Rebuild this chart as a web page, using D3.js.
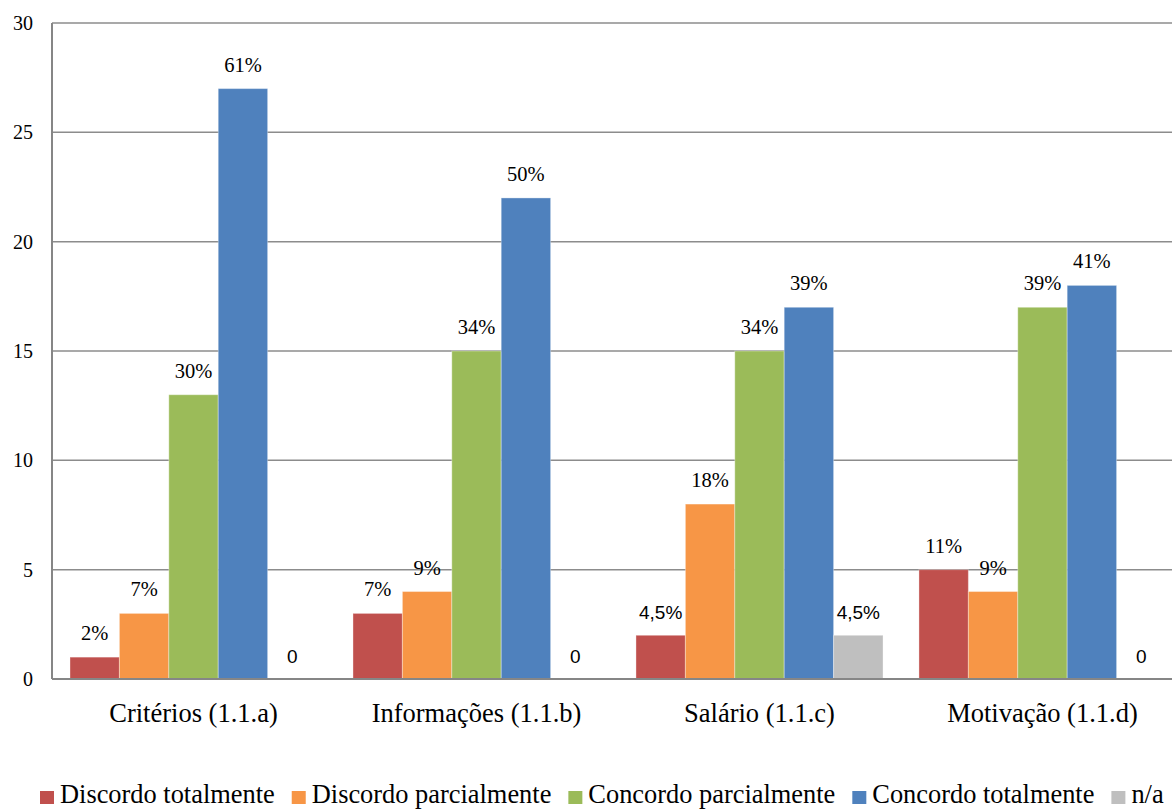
<!DOCTYPE html>
<html>
<head>
<meta charset="utf-8">
<script src="https://cdn.jsdelivr.net/npm/d3@7"></script>
<style>
  body { margin: 0; background: #fff; }
  svg { display: block; }
</style>
</head>
<body>
<svg id="chart" width="1172" height="809"></svg>
<script>
// Survey answers per question, counts and the percentage shown on top of each bar
const categories = ["Critérios (1.1.a)", "Informações (1.1.b)", "Salário (1.1.c)", "Motivação (1.1.d)"];
const seriesNames = ["Discordo totalmente", "Discordo parcialmente", "Concordo parcialmente", "Concordo totalmente", "n/a"];
const seriesColors = ["#C0504D", "#F79646", "#9BBB59", "#4F81BD", "#BFBFBF"];
const discordoTotalmente = [1, 3, 2, 5];
const discordoParcialmente = [3, 4, 8, 4];
const concordoParcialmente = [13, 15, 15, 17];
const concordoTotalmente = [27, 22, 17, 18];
const naoAplica = [0, 0, 2, 0];
const labelsDT = ["2%", "7%", "4,5%", "11%"];
const labelsDP = ["7%", "9%", "18%", "9%"];
const labelsCP = ["30%", "34%", "34%", "39%"];
const labelsCT = ["61%", "50%", "39%", "41%"];
const labelsNA = ["0", "0", "4,5%", "0"];
const yTicks = [0, 5, 10, 15, 20, 25, 30];

const values = [discordoTotalmente, discordoParcialmente, concordoParcialmente, concordoTotalmente, naoAplica];
const labels = [labelsDT, labelsDP, labelsCP, labelsCT, labelsNA];

const svg = d3.select("#chart");
const W = 1172;
const plotLeft = 52, plotRight = 1184, plotTop = 23, plotBottom = 679;
const serif = "'Liberation Serif', 'Times New Roman', serif";
const sans = "'Liberation Sans', Arial, sans-serif";

const x0 = d3.scaleBand().domain(categories).range([plotLeft, plotRight])
  .paddingInner(0.127).paddingOuter(0.0636);
const x1 = d3.scaleBand().domain(d3.range(seriesNames.length)).range([0, x0.bandwidth()]);
const y = d3.scaleLinear().domain([0, 30]).range([plotBottom, plotTop]);

// horizontal gridlines
svg.append("g").selectAll("line").data(yTicks.filter(t => t > 0)).join("line")
  .attr("x1", plotLeft).attr("x2", W)
  .attr("y1", d => y(d)).attr("y2", d => y(d))
  .attr("stroke", "#8c8c8c").attr("stroke-width", 1.5);

// y tick labels
svg.append("g").selectAll("text").data(yTicks).join("text")
  .attr("x", 33).attr("y", d => y(d) + 7)
  .attr("text-anchor", "end")
  .attr("font-family", serif).attr("font-size", 20).attr("fill", "#000")
  .text(d => d);

// bars with value labels
const groups = svg.append("g").selectAll("g").data(categories).join("g")
  .attr("transform", d => `translate(${x0(d)},0)`);

groups.each(function(cat, ci) {
  const g = d3.select(this);
  seriesNames.forEach((s, si) => {
    const v = values[si][ci];
    if (v > 0) {
      g.append("rect")
        .attr("x", x1(si)).attr("width", x1.bandwidth())
        .attr("y", y(v)).attr("height", y(0) - y(v))
        .attr("fill", seriesColors[si])
        .attr("stroke", "#ffffff").attr("stroke-opacity", 0.35).attr("stroke-width", 1);
    }
    const t = labels[si][ci];
    const isPlain = /^\d+%$/.test(t);
    g.append("text")
      .attr("x", x1(si) + x1.bandwidth() / 2)
      .attr("y", y(v) - (isPlain ? 17 : 16))
      .attr("text-anchor", "middle")
      .attr("font-family", isPlain ? serif : sans)
      .attr("font-size", isPlain ? 20.5 : 19)
      .attr("fill", "#000")
      .text(t);
  });
});

// axis lines
svg.append("line").attr("x1", plotLeft).attr("x2", plotLeft)
  .attr("y1", plotTop).attr("y2", y(0))
  .attr("stroke", "#868686").attr("stroke-width", 2);
svg.append("line").attr("x1", plotLeft).attr("x2", W)
  .attr("y1", y(0)).attr("y2", y(0))
  .attr("stroke", "#868686").attr("stroke-width", 2);

// category labels
svg.append("g").selectAll("text").data(categories).join("text")
  .attr("x", d => x0(d) + x0.bandwidth() / 2).attr("y", 722)
  .attr("text-anchor", "middle")
  .attr("font-family", serif).attr("font-size", 26.5).attr("fill", "#000")
  .text(d => d);

// legend
const legend = svg.append("g").attr("transform", "translate(40,803)");
let lx = 0;
seriesNames.forEach((s, i) => {
  const it = legend.append("g").attr("transform", `translate(${lx},0)`);
  it.append("rect").attr("x", 0).attr("y", -12).attr("width", 14).attr("height", 13).attr("fill", seriesColors[i]);
  const tx = it.append("text").attr("x", 20).attr("y", 0)
    .attr("font-family", serif).attr("font-size", 26.4).attr("fill", "#000").text(s);
  lx += 20 + tx.node().getComputedTextLength() + 17;
});
</script>
</body>
</html>
